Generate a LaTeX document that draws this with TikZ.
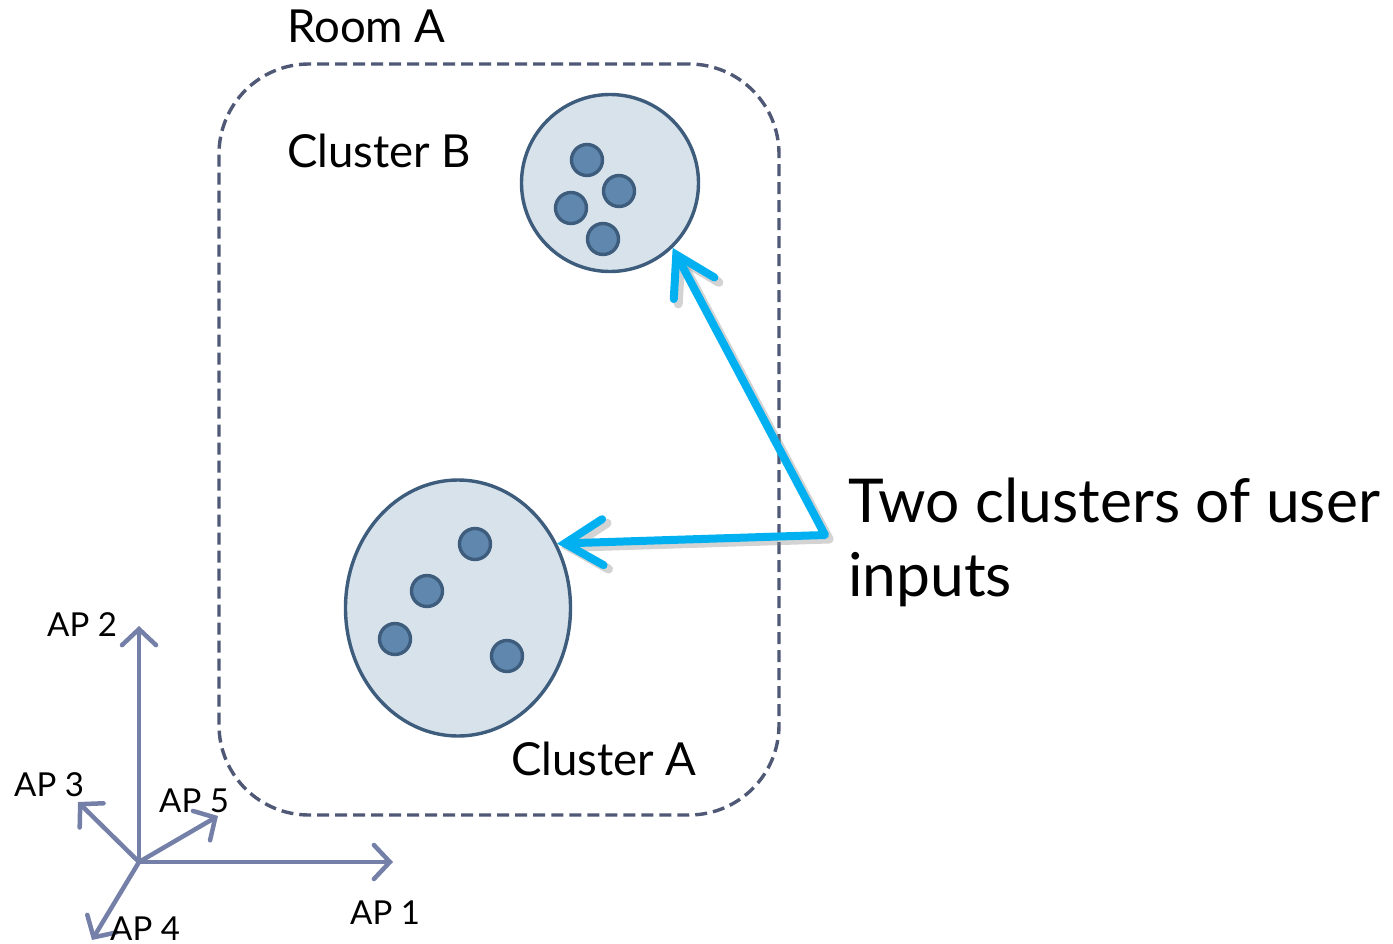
\documentclass[tikz,border=0pt]{standalone}
\usepackage{fontspec}
\setmainfont{Lato}
\usetikzlibrary{arrows.meta,shapes.geometric}

\definecolor{roomline}{HTML}{4F5875}
\definecolor{clfill}{HTML}{D7E2EB}
\definecolor{clline}{HTML}{3E5C7C}
\definecolor{dotfill}{HTML}{6088AE}
\definecolor{hint}{HTML}{00B0F0}
\definecolor{axis}{HTML}{7480A8}

\tikzset{
  room/.style={draw=roomline, line width=3.4pt, dash pattern=on 12pt off 6pt,
    rounded corners=90pt, minimum width=560pt, minimum height=751pt, inner sep=0pt},
  cluster/.style={draw=clline, fill=clfill, line width=3.4pt, inner sep=0pt},
  user/.style={circle, draw=clline, fill=dotfill, line width=3.4pt,
    minimum size=31pt, inner sep=0pt},
  lbl/.style={anchor=base west, inner sep=0pt, font=\fontsize{45.5}{52}\selectfont},
  big/.style={anchor=base west, inner sep=0pt, font=\fontsize{60.5}{70}\selectfont},
  aplbl/.style={anchor=base west, inner sep=0pt, font=\fontsize{33}{38}\selectfont},
  apaxis/.style={draw=axis, line width=4.5pt, line cap=round,
    -{Straight Barb[length=16pt,width=34pt,line cap=round]}},
  tip/.style={Straight Barb[length=38pt,width=46pt,line cap=round]},
  pointer/.style={draw=hint, line width=8pt, line join=round, line cap=round,
    {Straight Barb[length=38pt,width=46pt,line cap=round]}-{Straight Barb[length=38pt,width=46pt,line cap=round]}},
  pshadow/.style={draw=black!50, opacity=0.35, line width=9pt, line join=round, line cap=round,
    {Straight Barb[length=38pt,width=46pt,line cap=round]}-{Straight Barb[length=38pt,width=46pt,line cap=round]}}
}

\begin{document}
\begin{tikzpicture}[x=1pt, y=-1pt]
  \useasboundingbox (0,0) rectangle (1393,943);

  % room outline
  \node[room] (room) at (499,439.5) {};
  \node[lbl] (roomlbl) at (287,42) {Room A};

  % cluster B
  \node[cluster, circle, minimum size=177pt] (clB) at (610,183) {};
  \node[user] (b1) at (587,160) {};
  \node[user] (b2) at (619,191) {};
  \node[user] (b3) at (571,208) {};
  \node[user] (b4) at (603,239) {};
  \node[lbl] (clBlbl) at (287,167) {Cluster B};

  % cluster A
  \node[cluster, ellipse, minimum width=225pt, minimum height=256pt] (clA) at (458,608) {};
  \node[user] (a1) at (475,544) {};
  \node[user] (a2) at (427,591) {};
  \node[user] (a3) at (395,639) {};
  \node[user] (a4) at (507,656) {};
  \node[lbl] (clAlbl) at (511,775) {Cluster A};

  % pointer arrows to both clusters, with a soft drop shadow
  \coordinate (bend) at (825,535);
  \coordinate (bendS) at (829,539);
  \path[pshadow] ([shift={(4,4)}]clB.-46) -- (bendS) -- ([shift={(4,4)}]clA.33);
  \path[pointer] (clB.-46) -- (bend) -- (clA.33);

  \node[big] (two) at (848,522) {Two clusters of user};
  \node[big] (inp) at (848,596) {inputs};

  % access point axes
  \coordinate (o) at (139,862);
  \coordinate (ap1) at (393,862);
  \coordinate (ap2) at (139,626);
  \coordinate (ap3) at (78,802);
  \coordinate (ap4) at (92,940);
  \coordinate (ap5) at (218,816);
  \draw[apaxis] (o) -- (ap1);
  \draw[apaxis] (o) -- (ap2);
  \draw[apaxis] (o) -- (ap3);
  \draw[apaxis] (o) -- (ap4);
  \draw[apaxis] (o) -- (ap5);
  \node[aplbl] (l1) at (350,924) {AP 1};
  \node[aplbl] (l2) at (47,636) {AP 2};
  \node[aplbl] (l3) at (14,796) {AP 3};
  \node[aplbl] (l4) at (110,940) {AP 4};
  \node[aplbl] (l5) at (159,812) {AP 5};
\end{tikzpicture}
\end{document}
